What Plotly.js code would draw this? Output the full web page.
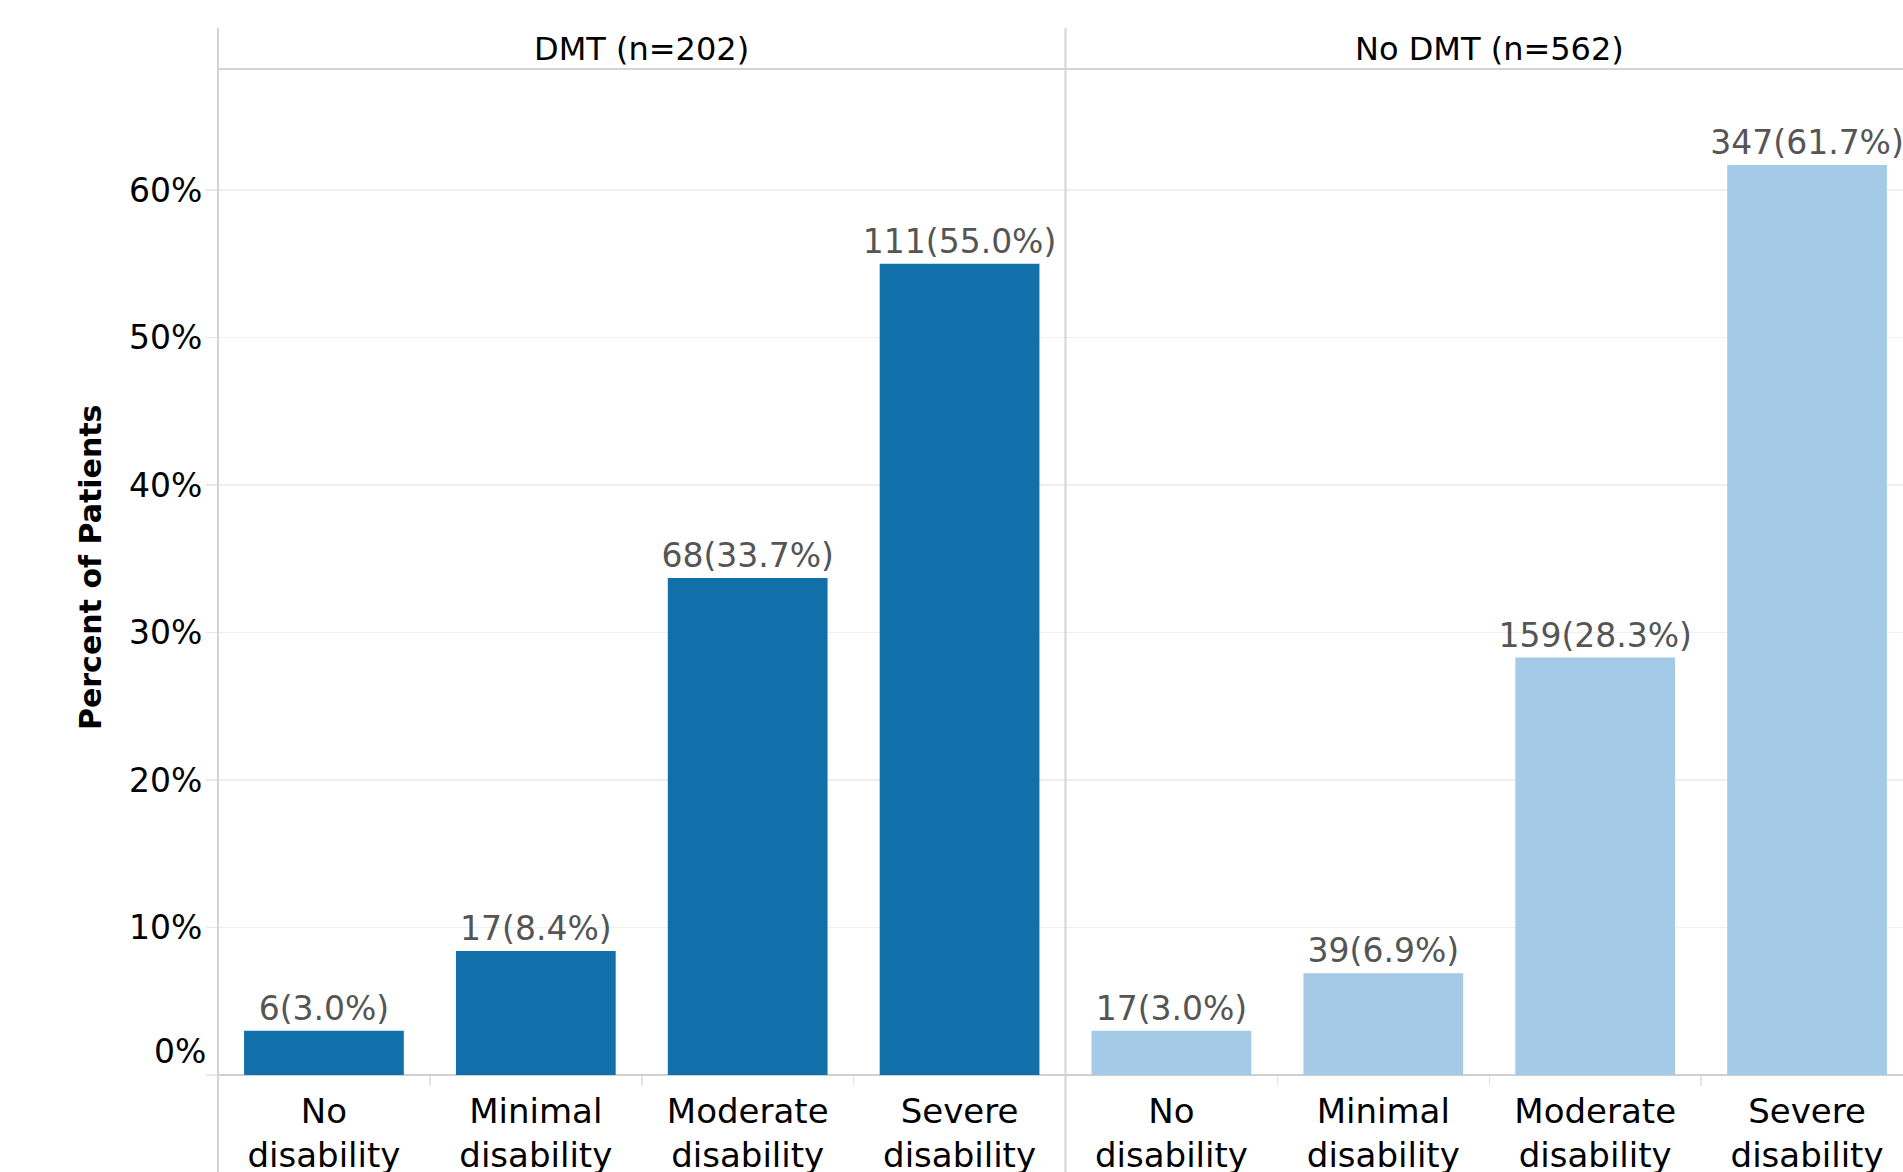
<!DOCTYPE html>
<html>
<head>
<meta charset="utf-8">
<script src="https://cdn.plot.ly/plotly-3.0.1.min.js"></script>
<style>
  html, body { margin: 0; padding: 0; overflow: hidden; background: #fff; }
  #chart { width: 1913px; height: 1172px; }
</style>
</head>
<body>
<div id="chart"></div>
<script>
// ---- data ----
const categories = ["No<br>disability", "Minimal<br>disability", "Moderate<br>disability", "Severe<br>disability"];
const groupNames = ["DMT (n=202)", "No DMT (n=562)"];
const dmtCounts = [6, 17, 68, 111];
const dmtPct = [3.0, 8.4, 33.7, 55.0];
const noDmtCounts = [17, 39, 159, 347];
const noDmtPct = [3.0, 6.9, 28.3, 61.7];
const yTickVals = [0, 10, 20, 30, 40, 50, 60];
const yTickText = ["", "10%", "20%", "30%", "40%", "50%", "60%"];
const yZeroLabel = "0%";
const yTitle = "Percent of Patients";

const label = (counts, pct) => counts.map((c, i) => c + "(" + pct[i].toFixed(1) + "%)");

const valueFont = { family: "DejaVu Sans", size: 33, color: "#555555" };
const catFont = { family: "DejaVu Sans", size: 34, color: "#000000" };
const tickFont = { family: "DejaVu Sans", size: 33, color: "#000000" };

const traces = [
  {
    type: "bar", x: categories, y: dmtPct, xaxis: "x", yaxis: "y",
    marker: { color: "#1170aa" },
    text: label(dmtCounts, dmtPct), textposition: "outside", constraintext: "none",
    cliponaxis: false, textfont: valueFont, hoverinfo: "skip", showlegend: false
  },
  {
    type: "bar", x: categories, y: noDmtPct, xaxis: "x2", yaxis: "y2",
    marker: { color: "#a5cae7" },
    text: label(noDmtCounts, noDmtPct), textposition: "outside", constraintext: "none",
    cliponaxis: false, textfont: valueFont, hoverinfo: "skip", showlegend: false
  }
];

const xCommon = {
  type: "category", range: [-0.5, 3.5], showgrid: false, zeroline: false, showline: false,
  ticks: "outside", tickson: "boundaries", ticklen: 10, tickcolor: "#e4e4e4", tickwidth: 1.5,
  tickfont: catFont, ticklabelstandoff: 13, fixedrange: true
};
const yCommon = {
  range: [0, 68.2], tickvals: yTickVals, ticktext: yTickText,
  showgrid: true, gridcolor: "#efefef", gridwidth: 1.5,
  zeroline: true, zerolinecolor: "#d0d0d0", zerolinewidth: 2,
  showline: false, fixedrange: true
};

const gridLine = "#d4d4d4";
const layout = {
  width: 1913, height: 1172,
  margin: { l: 218, r: 0, t: 69, b: 97 },
  paper_bgcolor: "#ffffff", plot_bgcolor: "#ffffff",
  bargap: 0.246,
  font: { family: "DejaVu Sans" },
  xaxis: Object.assign({}, xCommon, { domain: [0, 0.5], anchor: "y" }),
  xaxis2: Object.assign({}, xCommon, { domain: [0.5, 1], anchor: "y2" }),
  yaxis: Object.assign({}, yCommon, {
    anchor: "x", ticks: "outside", ticklen: 11, tickcolor: "#e8e8e8", tickwidth: 1.5,
    tickfont: tickFont, ticklabelstandoff: -3
  }),
  yaxis2: Object.assign({}, yCommon, { anchor: "x2", matches: "y", showticklabels: false, ticks: "" }),
  shapes: [
    { type: "line", xref: "paper", yref: "paper", x0: 0, x1: 0, y0: -0.1, y1: 1.0408,
      line: { color: gridLine, width: 2 } },
    { type: "line", xref: "paper", yref: "paper", x0: 0.5, x1: 0.5, y0: -0.1, y1: 1.0408,
      line: { color: gridLine, width: 2 } },
    { type: "line", xref: "paper", yref: "paper", x0: 0, x1: 1, y0: 1, y1: 1,
      line: { color: gridLine, width: 2 } }
  ],
  annotations: [
    { text: groupNames[0], xref: "paper", yref: "paper", x: 0.25, y: 1.0194,
      xanchor: "center", yanchor: "middle", showarrow: false,
      font: { family: "DejaVu Sans", size: 32, color: "#000000" } },
    { text: groupNames[1], xref: "paper", yref: "paper", x: 0.75, y: 1.0194,
      xanchor: "center", yanchor: "middle", showarrow: false,
      font: { family: "DejaVu Sans", size: 32, color: "#000000" } },
    { text: yTitle, xref: "paper", yref: "paper", x: -0.0749, y: 0.504, textangle: -90,
      xanchor: "center", yanchor: "middle", showarrow: false,
      font: { family: "DejaVu Sans", size: 30, color: "#000000", weight: "bold" } },
    { text: yZeroLabel, xref: "paper", yref: "y", x: 0, y: 0, xanchor: "right", yanchor: "middle",
      xshift: -10, yshift: 24, showarrow: false, font: tickFont }
  ]
};

Plotly.newPlot("chart", traces, layout, { displayModeBar: false, staticPlot: true });
</script>
</body>
</html>
